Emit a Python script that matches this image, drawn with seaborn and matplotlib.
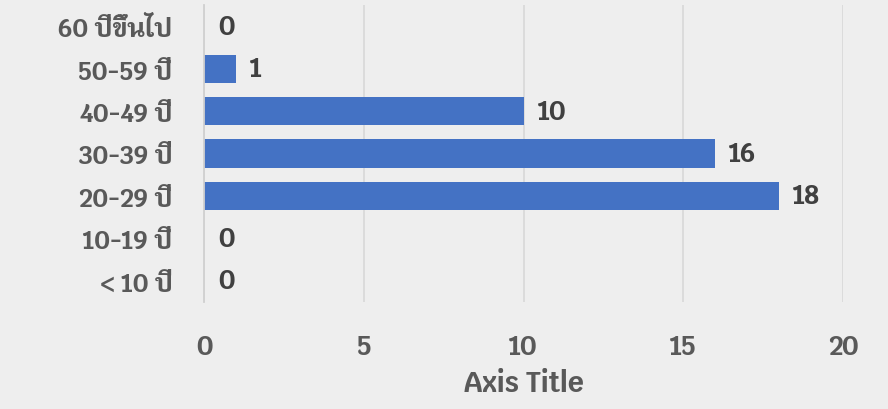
import matplotlib
matplotlib.use("Agg")
import matplotlib.pyplot as plt
import seaborn as sns
import pandas as pd

categories = ["60 ปีขึ้นไป", "50-59 ปี", "40-49 ปี", "30-39 ปี", "20-29 ปี", "10-19 ปี", "< 10 ปี"]
values = [0, 1, 10, 16, 18, 0, 0]
x_ticks = [0, 5, 10, 15, 20]
x_title = "Axis Title"

df = pd.DataFrame({"cat": categories, "val": values})

sns.set_theme(style="white")
FONT = ["Krub", "DejaVu Sans"]
plt.rcParams["font.family"] = FONT

BG = "#eeeeee"
fig = plt.figure(figsize=(8.88, 4.10), dpi=100, facecolor=BG)
ax = fig.add_axes([204 / 888, 1 - 303 / 410, (843 - 204) / 888, (303 - 6) / 410])
ax.set_facecolor(BG)

sns.barplot(data=df, x="val", y="cat", order=categories, orient="h",
            color="#4472C4", saturation=1, width=0.66, linewidth=0, ax=ax, zorder=3)

ax.set_xlim(0, 20)
ax.set_xticks(x_ticks)
ax.grid(axis="x", color="#d9d9d9", linewidth=1.3, zorder=0)
ax.grid(axis="y", visible=False)
for s in ["top", "right", "bottom"]:
    ax.spines[s].set_visible(False)
ax.spines["left"].set_color("#d0d0d0")
ax.spines["left"].set_linewidth(1.3)
ax.spines["left"].set_zorder(4)

ax.tick_params(axis="both", length=0)
ax.tick_params(axis="y", pad=23)
ax.tick_params(axis="x", pad=22)
for lab in ax.get_yticklabels():
    lab.set_fontsize(18)
    lab.set_fontweight("bold")
    lab.set_color("#595959")
for lab in ax.get_xticklabels():
    lab.set_fontsize(19)
    lab.set_fontweight("bold")
    lab.set_color("#595959")

ax.set_ylabel("")
ax.set_xlabel(x_title, fontsize=20, fontweight="bold", color="#595959", labelpad=6)

for cont in ax.containers:
    ax.bar_label(cont, labels=[str(v) for v in values], padding=10,
                 fontsize=19, fontweight="bold", color="#404040")

fig.savefig("out.png", dpi=100, facecolor=BG)
